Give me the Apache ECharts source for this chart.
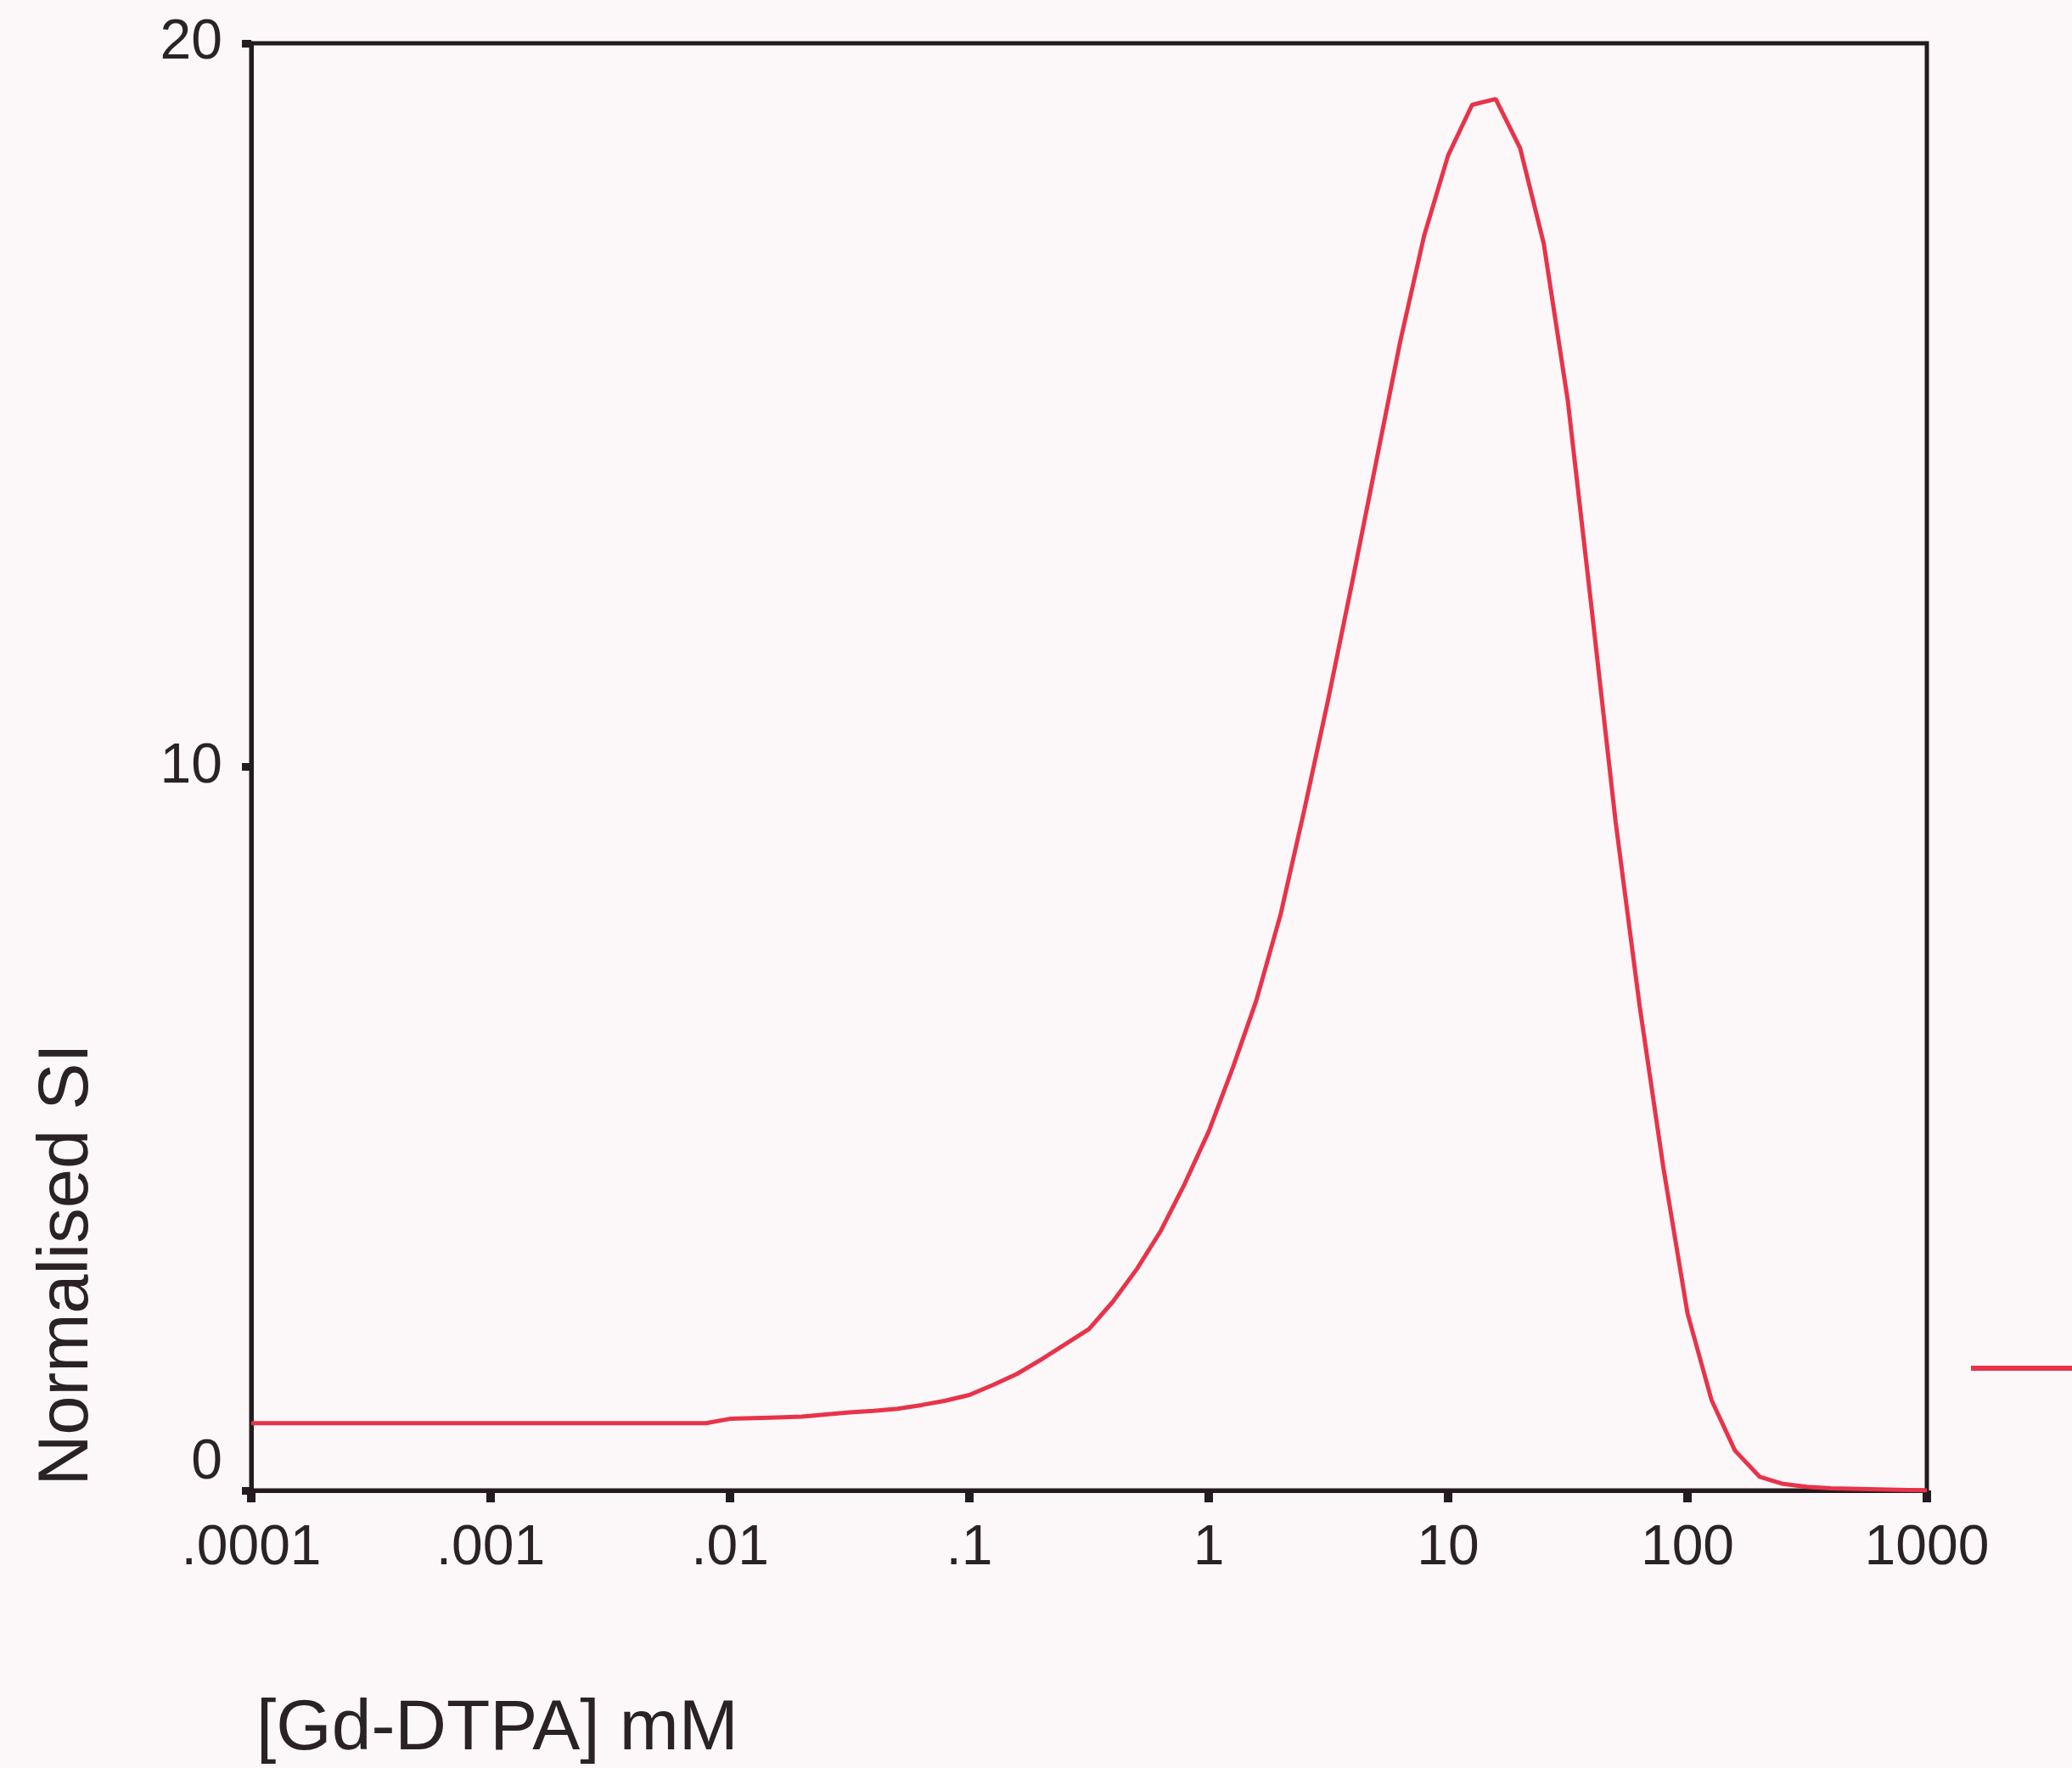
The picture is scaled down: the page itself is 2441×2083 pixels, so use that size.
<!DOCTYPE html>
<html>
<head>
<meta charset="utf-8">
<script src="https://cdn.jsdelivr.net/npm/echarts@6/dist/echarts.min.js"></script>
<style>
  html, body { margin: 0; padding: 0; background: #fcf8f9; }
  #chart { width: 2441px; height: 2083px; }
</style>
</head>
<body>
<div id="chart"></div>
<script>
// [Gd-DTPA] concentration (mM) and normalised signal intensity
var concentration = [0.0001, 0.001, 0.00631, 0.00794, 0.01, 0.0126, 0.0158, 0.02, 0.0251, 0.0316,
    0.0398, 0.0501, 0.0631, 0.0794, 0.1, 0.126, 0.158, 0.2, 0.251, 0.316,
    0.398, 0.501, 0.631, 0.794, 1, 1.26, 1.58, 2, 2.51, 3.16,
    3.98, 5.01, 6.31, 7.94, 10, 12.6, 15.8, 20, 25.1, 31.6,
    39.8, 50.1, 63.1, 79.4, 100, 126, 158, 200, 251, 316, 398, 1000];
var normalisedSI = [0.93, 0.93, 0.93, 0.93, 0.99, 1.00, 1.01, 1.02, 1.05, 1.08,
    1.10, 1.13, 1.18, 1.24, 1.32, 1.46, 1.61, 1.81, 2.02, 2.23,
    2.61, 3.06, 3.59, 4.24, 4.96, 5.84, 6.77, 7.97, 9.41, 10.94,
    12.56, 14.22, 15.88, 17.34, 18.45, 19.15, 19.23, 18.55, 17.23, 15.07,
    12.18, 9.24, 6.7, 4.45, 2.45, 1.25, 0.55, 0.19, 0.09, 0.05, 0.03, 0];

// tick labels of the log axis
var xTickValues = [0.0001, 0.001, 0.01, 0.1, 1, 10, 100, 1000];
var xTickLabels = ['.0001', '.001', '.01', '.1', '1', '10', '100', '1000'];
var yTicks = [0, 10, 20];

var axisColor = '#241b20';
var textColor = '#2b2226';
var lineColor = '#e8334a';

var pairs = [];
for (var i = 0; i < concentration.length; i++) {
    pairs.push([concentration[i], normalisedSI[i]]);
}

function xLabel(v) {
    for (var i = 0; i < xTickValues.length; i++) {
        if (Math.abs(Math.log10(v) - Math.log10(xTickValues[i])) < 1e-6) return xTickLabels[i];
    }
    return '';
}

var chart = echarts.init(document.getElementById('chart'));
var option = {
    backgroundColor: '#fcf8f9',
    animation: false,
    textStyle: { fontFamily: 'Liberation Sans, Arial, sans-serif' },
    grid: {
        left: 296, right: 171, top: 51, bottom: 327,
        show: true, borderColor: axisColor, borderWidth: 5
    },
    legend: {
        left: 2317, top: 1604,
        icon: 'rect', itemWidth: 150, itemHeight: 6,
        formatter: function () { return ''; },
        data: ['Normalised SI']
    },
    xAxis: {
        type: 'log',
        logBase: 10,
        min: 0.0001,
        max: 1000,
        axisLine: { show: true, lineStyle: { color: axisColor, width: 5 } },
        axisTick: { show: true, length: 14, lineStyle: { color: axisColor, width: 10 } },
        splitLine: { show: false },
        axisLabel: {
            margin: 36,
            fontSize: 66,
            color: textColor,
            showMinLabel: true, showMaxLabel: true,
            formatter: xLabel
        }
    },
    yAxis: {
        type: 'value',
        min: yTicks[0],
        max: yTicks[yTicks.length - 1],
        interval: 10,
        axisLine: { show: true, lineStyle: { color: axisColor, width: 5 } },
        axisTick: { show: true, length: 11, lineStyle: { color: axisColor, width: 9 } },
        splitLine: { show: false },
        axisLabel: {
            margin: 34,
            fontSize: 66,
            color: textColor,
            formatter: function (v) { return v === 0 ? '{z|0}' : String(v); },
            rich: {
                z: { fontSize: 66, color: textColor, padding: [0, 0, 64, 0] }
            }
        }
    },
    graphic: [
        {
            type: 'text',
            x: 80, y: 1490,
            rotation: Math.PI / 2,
            style: {
                text: 'Normalised SI',
                fontSize: 83,
                fontFamily: 'Liberation Sans, Arial, sans-serif',
                fill: textColor,
                align: 'center',
                verticalAlign: 'middle'
            }
        },
        {
            type: 'text',
            x: 302, y: 2038,
            style: {
                text: '[Gd-DTPA] mM',
                fontSize: 84,
                fontFamily: 'Liberation Sans, Arial, sans-serif',
                fill: textColor,
                align: 'left',
                verticalAlign: 'middle'
            }
        }
    ],
    series: [{
        name: 'Normalised SI',
        type: 'line',
        data: pairs,
        showSymbol: false,
        symbol: 'none',
        smooth: false,
        color: lineColor,
        lineStyle: { color: lineColor, width: 5 }
    }]
};
chart.setOption(option);
</script>
</body>
</html>
